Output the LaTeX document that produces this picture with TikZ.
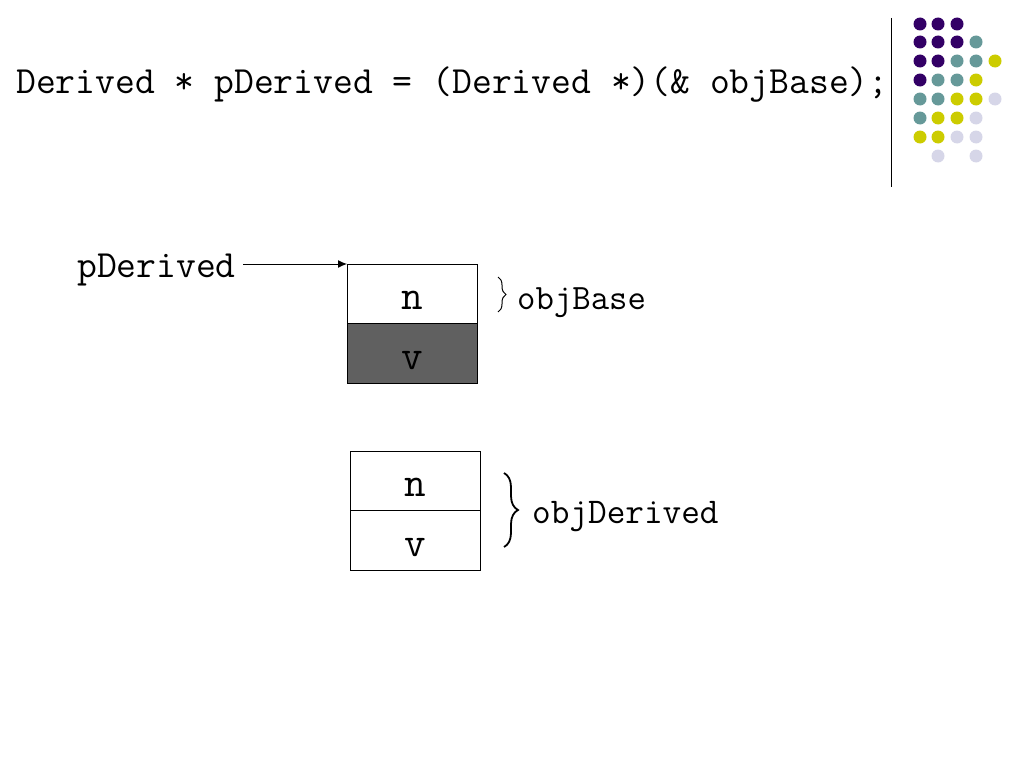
\documentclass[tikz,border=0pt]{standalone}
\usepackage{tikz}
\usetikzlibrary{positioning, calc}
\usetikzlibrary{decorations.pathreplacing}
\usetikzlibrary{arrows.meta}

\definecolor{dotpurple}{HTML}{330066}
\definecolor{dotteal}{HTML}{669999}
\definecolor{dotyellow}{HTML}{CCCC00}
\definecolor{dotlav}{HTML}{D6D6E8}
\definecolor{slotgray}{HTML}{606060}

\tikzset{
  slot/.style={draw, line width=0.8pt, minimum width=130pt, minimum height=59.5pt,
    inner sep=0pt, outer sep=0pt, text height=32pt, text depth=0pt,
    font=\ttfamily\fontsize{42}{44}\selectfont},
  codetext/.style={inner sep=0pt, font=\ttfamily\fontsize{38.5}{42}\selectfont},
  objbrace/.style={decorate, line width=1pt}
}

\begin{document}
\begin{tikzpicture}[x=1pt, y=-1pt]

% Manually size the picture
\useasboundingbox (0, 0) rectangle (1024, 768);

% Cast statement
\node[codetext, anchor=base west] (cast) at (16, 93) {Derived * pDerived = (Derived *)(\& objBase);};
\draw[line width=0.8pt] (891, 18) -- (891, 187);

% Dot pattern, top right
\foreach \dx/\dy/\dc in {920/24/dotpurple, 938/24/dotpurple, 957/24/dotpurple,
    920/42/dotpurple, 938/42/dotpurple, 957/42/dotpurple, 976/42/dotteal,
    920/61/dotpurple, 938/61/dotpurple, 957/61/dotteal, 976/61/dotteal, 995/61/dotyellow,
    920/80/dotpurple, 938/80/dotteal, 957/80/dotteal, 976/80/dotyellow,
    920/99/dotteal, 938/99/dotteal, 957/99/dotyellow, 976/99/dotyellow, 995/99/dotlav,
    920/118/dotteal, 938/118/dotyellow, 957/118/dotyellow, 976/118/dotlav,
    920/137/dotyellow, 938/137/dotyellow, 957/137/dotlav, 976/137/dotlav,
    938/156/dotlav, 976/156/dotlav}
  \fill[\dc] (\dx, \dy) circle (6.5);

% objBase, seen through pDerived
\node[slot, anchor=north west] (basen) at (347, 264) {n};
\node[slot, fill=slotgray, below=0pt of basen] (basev) {v};

% Pointer
\node[codetext, anchor=base east] (ptr) at (236, 277) {pDerived};
\draw[-{Latex[length=9pt, width=8pt]}, line width=1pt] (ptr.east |- basen.north) ++(7, 0) -- (basen.north west);

% Brace for objBase
\coordinate (basetop) at (498, 277);
\coordinate (basebot) at (498, 312);
\draw[objbrace, decoration={brace, amplitude=8pt}] (basetop) -- (basebot);
\node[codetext, anchor=base west, font=\ttfamily\fontsize{35.7}{38}\selectfont] (basename) at (517, 309) {objBase};

% objDerived
\node[slot, anchor=north west] (derivn) at (350, 451) {n};
\node[slot, below=0pt of derivn] (derivv) {v};

% Brace for objDerived
\coordinate (derivtop) at (504, 473);
\coordinate (derivbot) at (504, 547);
\draw[objbrace, line width=1.8pt, decoration={brace, amplitude=14pt}] (derivtop) -- (derivbot);
\node[codetext, anchor=base west, font=\ttfamily\fontsize{36.2}{39}\selectfont] (derivname) at (532, 523) {objDerived};

\end{tikzpicture}
\end{document}
